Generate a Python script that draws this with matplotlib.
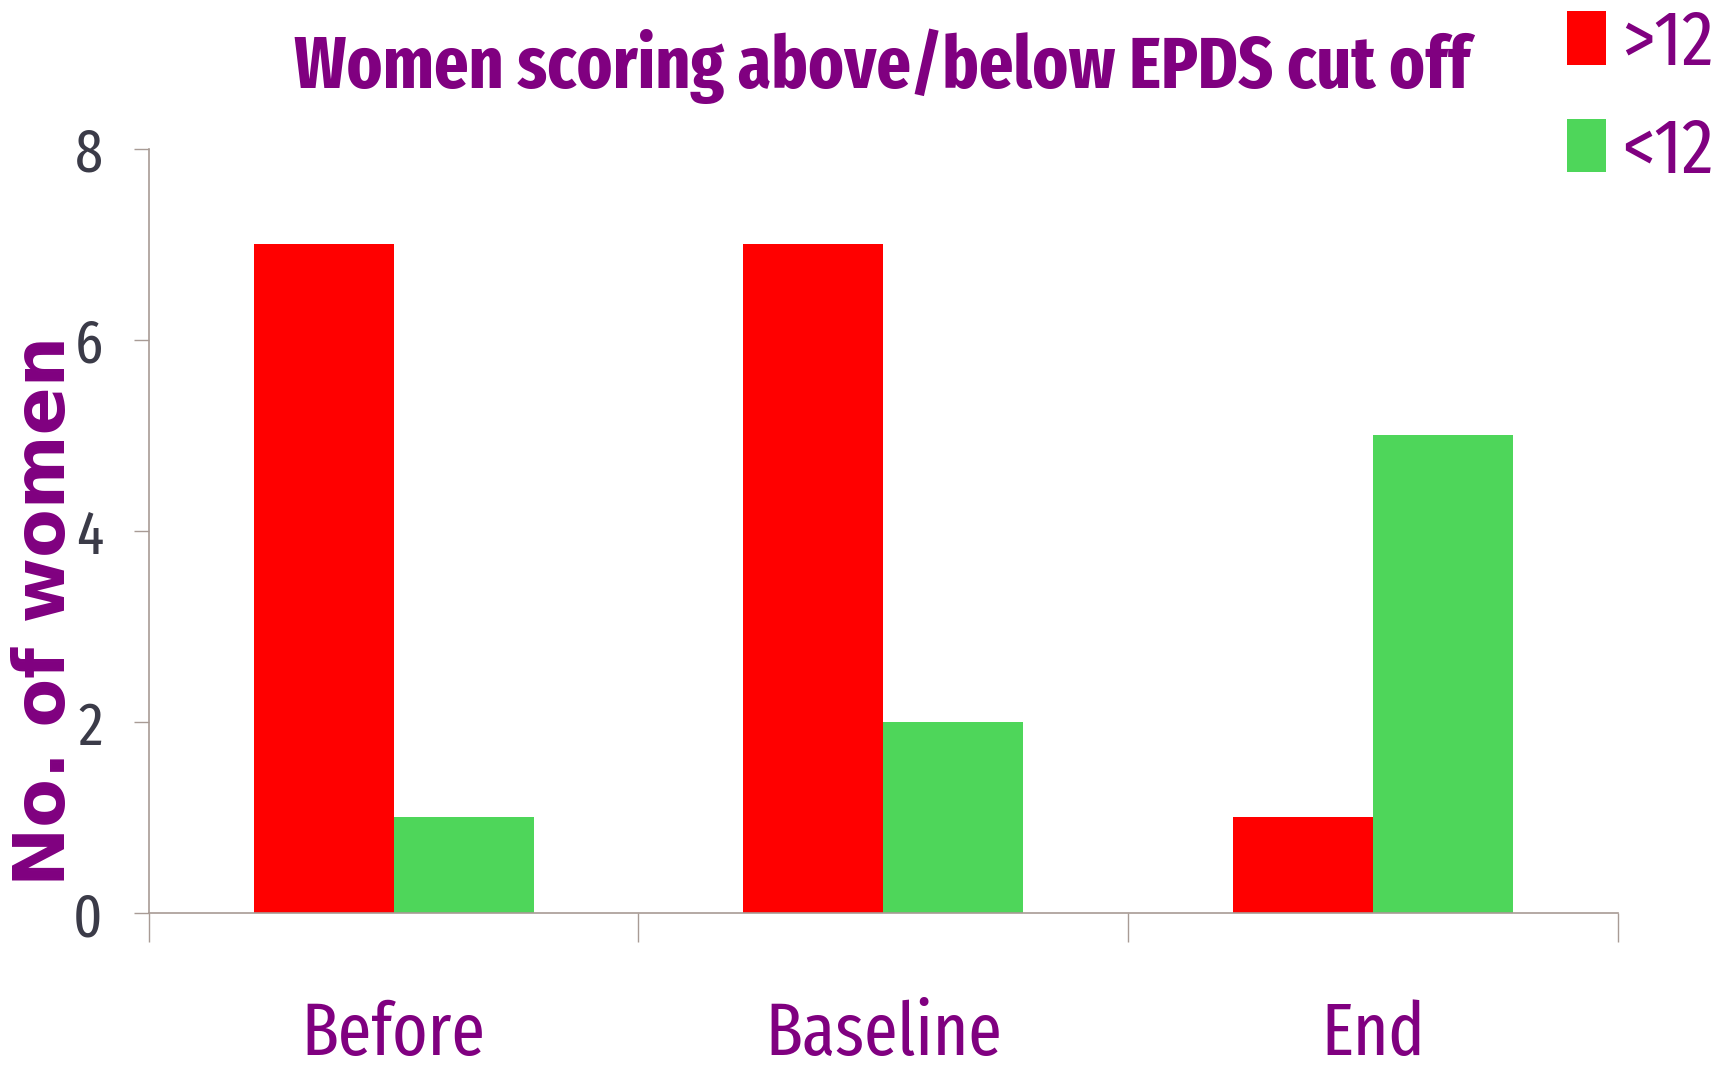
import matplotlib
matplotlib.use("Agg")
import matplotlib.pyplot as plt
import numpy as np
from matplotlib.patches import Patch

categories = ["Before", "Baseline", "End"]
above_12 = [7, 7, 1]
below_12 = [1, 2, 5]
series_labels = [">12", "<12"]
yticks = [0, 2, 4, 6, 8]

RED = "#FF0000"
GREEN = "#4ED65A"
PURPLE = "#800080"
TICKC = "#3B3B48"
SPINE = "#A89B95"
NARROW = ["Fira Sans Extra Condensed", "DejaVu Sans"]

fig = plt.figure(figsize=(17.27, 10.72), dpi=100)
ax = fig.add_axes([0.0861, 0.1483, 0.9369 - 0.0861, 0.8613 - 0.1483])

x = np.arange(len(categories))
w = 0.286
ax.bar(x - w / 2, above_12, width=w, color=RED, label=series_labels[0])
ax.bar(x + w / 2, below_12, width=w, color=GREEN, label=series_labels[1])

ax.set_xlim(-0.5, len(categories) - 0.5)
ax.set_ylim(0, 8)
for s in ["top", "right"]:
    ax.spines[s].set_visible(False)
for s in ["left", "bottom"]:
    ax.spines[s].set_color(SPINE)
    ax.spines[s].set_linewidth(1.2)

ax.set_yticks(yticks)
ax.set_yticklabels([str(v) for v in yticks], family=NARROW, fontsize=44, color=TICKC)
ax.tick_params(axis="y", length=11, width=1.0, color=SPINE, pad=22)

ax.set_xticks(x)
ax.set_xticklabels(categories, family=NARROW, fontsize=53, color=PURPLE)
ax.set_xticks(np.arange(-0.5, len(categories), 1.0), minor=True)
ax.tick_params(axis="x", which="major", length=0, pad=62)
ax.tick_params(axis="x", which="minor", length=21, width=1.0, color=SPINE)

fig.text(0.511, 0.918, "Women scoring above/below EPDS cut off", family=NARROW,
         fontweight="bold", fontsize=53, color=PURPLE, ha="center", va="baseline")

fig.text(0.0262, 0.43, "No. of women", family="DejaVu Sans", fontweight="bold",
         fontsize=51, color=PURPLE, rotation=90, ha="center", va="center")

handles = [Patch(facecolor=RED, edgecolor="none"), Patch(facecolor=GREEN, edgecolor="none")]
leg = fig.legend(handles, series_labels, loc="upper right", bbox_to_anchor=(1.019, 1.037),
                 frameon=False, handlelength=0.5, handleheight=0.68, handletextpad=0.2,
                 labelspacing=0.42, borderpad=0.1,
                 prop={"family": NARROW, "size": 56})
for t in leg.get_texts():
    t.set_color(PURPLE)

fig.savefig("out.png", dpi=100)
